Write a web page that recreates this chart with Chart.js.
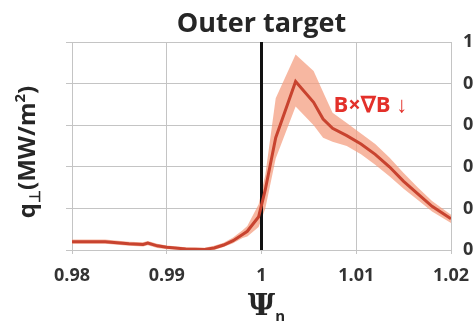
<!DOCTYPE html>
<html>
<head>
<meta charset="utf-8">
<script src="https://cdn.jsdelivr.net/npm/chart.js@4"></script>
<style>
  html, body { margin: 0; padding: 0; overflow: hidden; background: #fff; }
</style>
</head>
<body>
<canvas id="chart" width="500" height="323"></canvas>
<script>
// normalised flux coordinate
const psi = [0.98, 0.982, 0.9835, 0.986, 0.9875, 0.988, 0.989, 0.99, 0.992, 0.994,
  0.995, 0.996, 0.997, 0.998, 0.9985, 0.9997, 1.0004, 1.0015, 1.0036, 1.0055,
  1.0065, 1.0075, 1.009, 1.0105, 1.012, 1.0135, 1.015, 1.0165, 1.018, 1.02];
// heat flux (MW/m2), mean and error band
const qMean = [0.04, 0.04, 0.04, 0.03, 0.027, 0.033, 0.02, 0.013, 0.005, 0.003,
  0.01, 0.024, 0.045, 0.075, 0.09, 0.16, 0.29, 0.54, 0.81, 0.71,
  0.63, 0.585, 0.55, 0.51, 0.46, 0.4, 0.33, 0.27, 0.21, 0.15];
const qUpper = [0.05, 0.05, 0.05, 0.04, 0.037, 0.043, 0.03, 0.022, 0.013, 0.011,
  0.02, 0.035, 0.06, 0.095, 0.115, 0.22, 0.36, 0.73, 0.94, 0.86,
  0.76, 0.66, 0.61, 0.56, 0.51, 0.445, 0.37, 0.3, 0.235, 0.17];
const qLower = [0.03, 0.03, 0.03, 0.02, 0.017, 0.023, 0.01, 0.004, 0, 0,
  0, 0.014, 0.032, 0.058, 0.065, 0.11, 0.2, 0.44, 0.69, 0.6,
  0.54, 0.52, 0.5, 0.46, 0.41, 0.355, 0.295, 0.24, 0.185, 0.13];
const separatrix = [{ x: 1, y: 0 }, { x: 1, y: 1 }];
const xTicks = [0.98, 0.99, 1, 1.01, 1.02];
const titleText = "Outer target";
const noteText = "B×∇B ↓";
const notePos = { x: 1.0076, y: 0.663 };

const pts = (ys) => psi.map((x, i) => ({ x: x, y: ys[i] }));

const textPlugin = {
  id: "extraText",
  afterDraw(chart) {
    const ctx = chart.ctx;
    const area = chart.chartArea;
    const cx = (area.left + area.right) / 2;
    ctx.save();
    ctx.fillStyle = "#262626";
    ctx.textAlign = "center";
    ctx.textBaseline = "alphabetic";
    ctx.font = "bold 27px 'Open Sans'";
    ctx.fillText(titleText, cx, 32);

    // x title: Psi_n
    ctx.font = "bold 30px 'DejaVu Serif'";
    const wPsi = ctx.measureText("Ψ").width;
    ctx.fillText("Ψ", cx, 315);
    ctx.textAlign = "left";
    ctx.font = "bold 15px 'Open Sans'";
    ctx.fillText("n", cx + wPsi / 2, 321);

    // y title: q_perp (MW/m^2), rotated
    const big = "bold 24px 'Open Sans'";
    const small = "bold 15px 'Open Sans'";
    const parts = [
      ["q", big, 0], ["⊥", small, 5], ["(MW/m", big, 0], ["2", small, -10], [")", big, 0]
    ];
    let total = 0;
    parts.forEach(p => { ctx.font = p[1]; total += ctx.measureText(p[0]).width; });
    ctx.translate(35, 152);
    ctx.rotate(-Math.PI / 2);
    let px = -total / 2;
    parts.forEach(p => {
      ctx.font = p[1];
      ctx.fillText(p[0], px, p[2]);
      px += ctx.measureText(p[0]).width;
    });
    ctx.restore();

    // annotation
    ctx.save();
    ctx.fillStyle = "#e3302a";
    ctx.font = "bold 22px 'Open Sans'";
    ctx.textAlign = "left";
    ctx.fillText(noteText, chart.scales.x.getPixelForValue(notePos.x), chart.scales.y.getPixelForValue(notePos.y));
    ctx.restore();
  }
};

const ctx = document.getElementById("chart").getContext("2d");
const tickFont = { family: "'Open Sans'", size: 18, weight: "bold" };

new Chart(ctx, {
  type: "line",
  data: {
    datasets: [
      {
        data: pts(qMean),
        borderColor: "#c8432f",
        borderWidth: 3,
        pointRadius: 0,
        fill: false,
        tension: 0,
        order: 0,
      },
      {
        data: separatrix,
        borderColor: "#111111",
        borderWidth: 3,
        pointRadius: 0,
        fill: false,
        order: 1,
      },
      {
        data: pts(qUpper),
        borderWidth: 0,
        borderColor: "rgba(0,0,0,0)",
        backgroundColor: "rgba(244,155,125,0.72)",
        pointRadius: 0,
        fill: "+1",
        tension: 0,
        order: 2,
      },
      {
        data: pts(qLower),
        borderWidth: 0,
        borderColor: "rgba(0,0,0,0)",
        pointRadius: 0,
        fill: false,
        tension: 0,
        order: 3,
      },
    ],
  },
  options: {
    responsive: false,
    animation: false,
    devicePixelRatio: 1,
    layout: { padding: { top: 42, left: 0, right: 0, bottom: 0 } },
    plugins: {
      legend: { display: false },
      tooltip: { enabled: false },
    },
    scales: {
      x: {
        type: "linear",
        min: 0.98,
        max: 1.02,
        afterBuildTicks: (scale) => { scale.ticks = xTicks.map(v => ({ value: v })); },
        afterFit: (scale) => { scale.height = 73; },
        grid: { color: "#c4c4c4", lineWidth: 1, tickLength: 4 },
        border: { color: "#c4c4c4" },
        ticks: {
          font: tickFont,
          color: "#333",
          padding: 11,
          maxRotation: 0,
          callback: (v) => String(Number(v.toFixed(2))),
        },
      },
      y: {
        position: "left",
        min: 0,
        max: 1,
        afterFit: (scale) => { scale.width = 72; },
        grid: { color: "#c4c4c4", lineWidth: 1, tickLength: 6 },
        border: { color: "#c4c4c4" },
        ticks: { display: false, stepSize: 0.2 },
      },
      y2: {
        position: "right",
        min: 0,
        max: 1,
        afterFit: (scale) => { scale.width = 49; },
        grid: { drawOnChartArea: false, drawTicks: false },
        border: { color: "#c4c4c4" },
        ticks: {
          stepSize: 0.2,
          font: tickFont,
          color: "#333",
          padding: 12,
          callback: (v) => String(Number(v.toFixed(1))),
        },
      },
    },
  },
  plugins: [textPlugin],
});
</script>
</body>
</html>
